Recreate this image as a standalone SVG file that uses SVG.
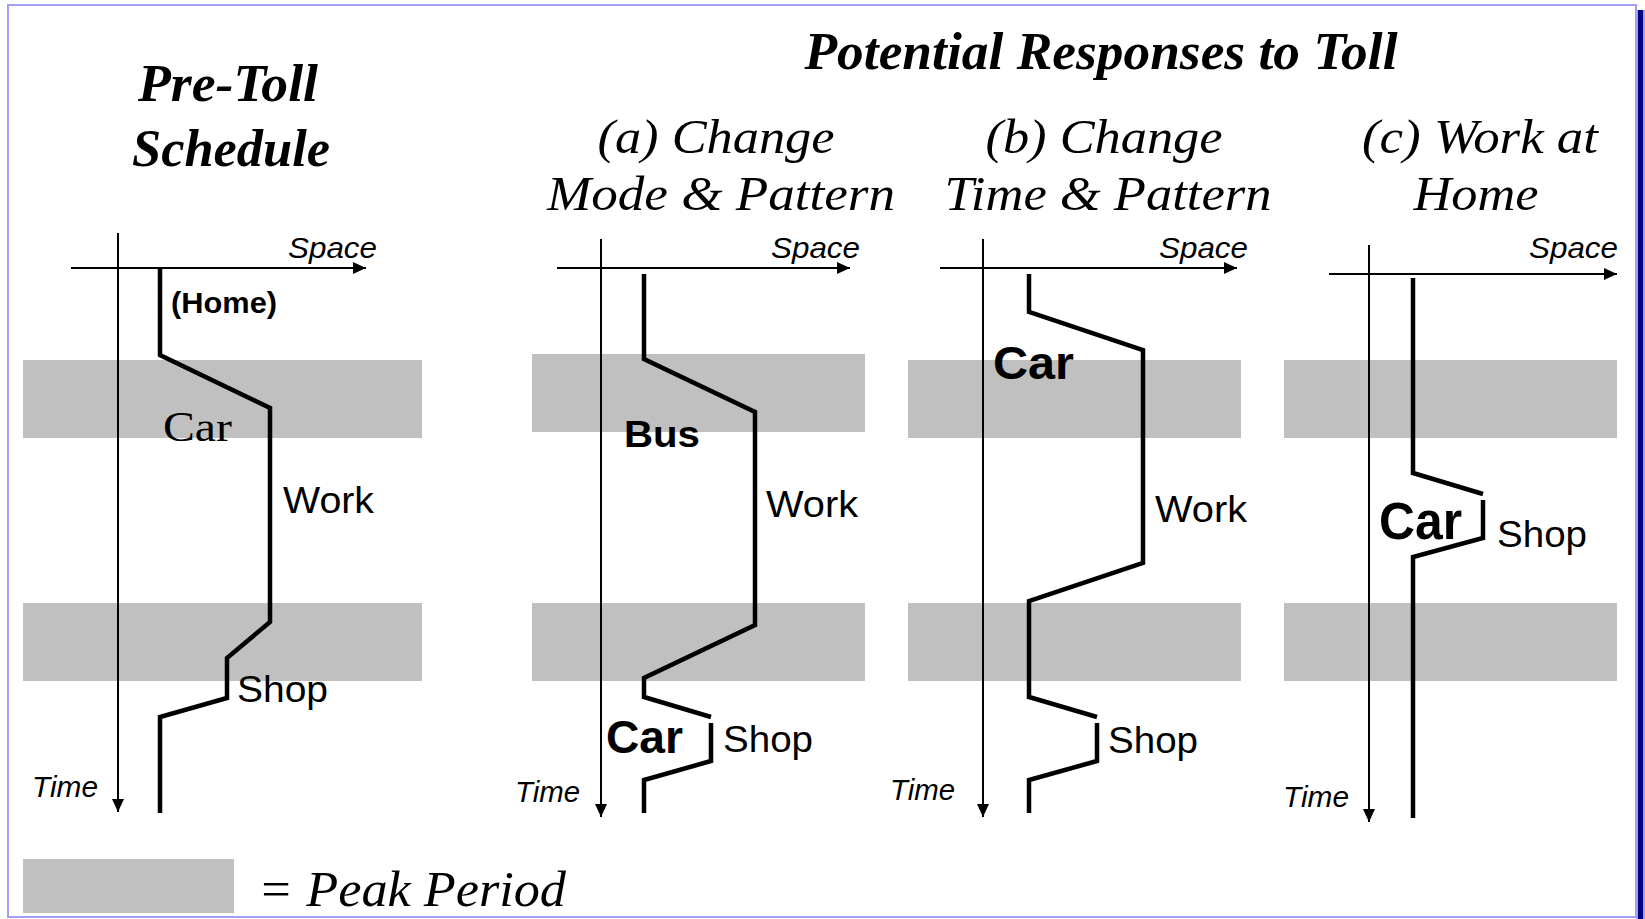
<svg xmlns="http://www.w3.org/2000/svg" width="1645" height="919" viewBox="0 0 1645 919">
<style>
.band{fill:#c0c0c0}
.axis{fill:none;stroke:#000;stroke-width:2}
.traj{fill:none;stroke:#000;stroke-width:4.5;stroke-linejoin:miter;stroke-linecap:butt}
.ttl{font-family:"Liberation Serif","Times New Roman",serif;font-weight:bold;font-style:italic;font-size:53px;fill:#000}
.sub{font-family:"Liberation Serif","Times New Roman",serif;font-style:italic;font-size:48px;fill:#000}
.ax{font-family:"Liberation Sans",Arial,sans-serif;font-style:italic;font-size:29px;fill:#000}
.lbl{font-family:"Liberation Sans",Arial,sans-serif;font-size:37px;fill:#000}
.bold{font-family:"Liberation Sans",Arial,sans-serif;font-weight:bold;fill:#000}
.serif{font-family:"Liberation Serif","Times New Roman",serif;fill:#000}
</style>
<defs>
<marker id="arr" markerUnits="userSpaceOnUse" markerWidth="14" markerHeight="12" refX="13" refY="6" orient="auto">
<path d="M0,0 L13,6 L0,12 Z" fill="#000"/>
</marker>
</defs>
<rect x="0" y="0" width="1645" height="919" fill="#fff"/>
<g id="frame">
<rect x="1636" y="10" width="9" height="909" fill="#a0a0f8"/>
<rect x="1638" y="10" width="5" height="909" fill="#000080"/>
<rect x="8" y="5" width="1628" height="912" fill="#fff" stroke="#a0a0f8" stroke-width="2"/>
</g>
<g id="titles">
<text class="ttl" x="228" y="101" text-anchor="middle" textLength="180" lengthAdjust="spacingAndGlyphs">Pre-Toll</text>
<text class="ttl" x="231" y="166" text-anchor="middle" textLength="198" lengthAdjust="spacingAndGlyphs">Schedule</text>
<text class="ttl" x="1101" y="69" text-anchor="middle" textLength="593" lengthAdjust="spacingAndGlyphs">Potential Responses to Toll</text>
<text class="sub" x="716" y="153" text-anchor="middle" textLength="237" lengthAdjust="spacingAndGlyphs">(a) Change</text>
<text class="sub" x="721" y="210" text-anchor="middle" textLength="348" lengthAdjust="spacingAndGlyphs">Mode &amp; Pattern</text>
<text class="sub" x="1104" y="153" text-anchor="middle" textLength="237" lengthAdjust="spacingAndGlyphs">(b) Change</text>
<text class="sub" x="1108" y="210" text-anchor="middle" textLength="327" lengthAdjust="spacingAndGlyphs">Time &amp; Pattern</text>
<text class="sub" x="1480" y="153" text-anchor="middle" textLength="236" lengthAdjust="spacingAndGlyphs">(c) Work at</text>
<text class="sub" x="1476" y="210" text-anchor="middle" textLength="125" lengthAdjust="spacingAndGlyphs">Home</text>
</g>
<g id="panel-pretoll">
<rect class="band" x="23" y="360" width="399" height="78"/>
<rect class="band" x="23" y="603" width="399" height="78"/>
<text class="ax" x="288" y="258" textLength="89" lengthAdjust="spacingAndGlyphs">Space</text>
<text class="ax" x="32" y="797" textLength="66" lengthAdjust="spacingAndGlyphs">Time</text>
<text class="bold" x="171" y="313" font-size="29" textLength="106" lengthAdjust="spacingAndGlyphs">(Home)</text>
<text class="serif" x="163" y="441" font-size="43" textLength="69" lengthAdjust="spacingAndGlyphs">Car</text>
<text class="lbl" x="283" y="513" textLength="91" lengthAdjust="spacingAndGlyphs">Work</text>
<text class="lbl" x="237" y="702" textLength="91" lengthAdjust="spacingAndGlyphs">Shop</text>
</g>
<g id="panel-a">
<rect class="band" x="532" y="354" width="333" height="78"/>
<rect class="band" x="532" y="603" width="333" height="78"/>
<text class="ax" x="771" y="258" textLength="89" lengthAdjust="spacingAndGlyphs">Space</text>
<text class="ax" x="515" y="802" textLength="65" lengthAdjust="spacingAndGlyphs">Time</text>
<text class="bold" x="624" y="447" font-size="37" textLength="76" lengthAdjust="spacingAndGlyphs">Bus</text>
<text class="lbl" x="766" y="517" textLength="92" lengthAdjust="spacingAndGlyphs">Work</text>
<text class="bold" x="606" y="753" font-size="47" textLength="77" lengthAdjust="spacingAndGlyphs">Car</text>
<text class="lbl" x="723" y="752" textLength="90" lengthAdjust="spacingAndGlyphs">Shop</text>
</g>
<g id="panel-b">
<rect class="band" x="908" y="360" width="333" height="78"/>
<rect class="band" x="908" y="603" width="333" height="78"/>
<text class="ax" x="1159" y="258" textLength="89" lengthAdjust="spacingAndGlyphs">Space</text>
<text class="ax" x="890" y="800" textLength="65" lengthAdjust="spacingAndGlyphs">Time</text>
<text class="bold" x="993" y="379" font-size="46" textLength="81" lengthAdjust="spacingAndGlyphs">Car</text>
<text class="lbl" x="1155" y="522" textLength="92" lengthAdjust="spacingAndGlyphs">Work</text>
<text class="lbl" x="1108" y="753" textLength="90" lengthAdjust="spacingAndGlyphs">Shop</text>
</g>
<g id="panel-c">
<rect class="band" x="1284" y="360" width="333" height="78"/>
<rect class="band" x="1284" y="603" width="333" height="78"/>
<text class="ax" x="1529" y="258" textLength="89" lengthAdjust="spacingAndGlyphs">Space</text>
<text class="ax" x="1283" y="807" textLength="66" lengthAdjust="spacingAndGlyphs">Time</text>
<text class="bold" x="1379" y="539" font-size="51" textLength="83" lengthAdjust="spacingAndGlyphs">Car</text>
<text class="lbl" x="1497" y="547" textLength="90" lengthAdjust="spacingAndGlyphs">Shop</text>
</g>
<g id="connectors">
<path class="axis" d="M118,233 V812" marker-end="url(#arr)"/>
<path class="axis" d="M71,268 H366" marker-end="url(#arr)"/>
<path class="axis" d="M601,239 V817" marker-end="url(#arr)"/>
<path class="axis" d="M557,268 H850" marker-end="url(#arr)"/>
<path class="axis" d="M983,239 V817" marker-end="url(#arr)"/>
<path class="axis" d="M940,268 H1237" marker-end="url(#arr)"/>
<path class="axis" d="M1369,245 V822" marker-end="url(#arr)"/>
<path class="axis" d="M1329,274 H1617" marker-end="url(#arr)"/>
<path class="traj" d="M160,268 V355 L270,408 V622 L227,658 V698 L160,717 V813"/>
<path class="traj" d="M644,274 V359 L755,412 V625 L644,678 V697 L711,717"/>
<path class="traj" d="M711,723 V761 L644,780 V813"/>
<path class="traj" d="M1029,274 V312 L1143,350 V563 L1029,601 V697 L1097,717"/>
<path class="traj" d="M1097,723 V761 L1029,780 V813"/>
<path class="traj" d="M1413,278 V473 L1483,494"/>
<path class="traj" d="M1483,500 V538 L1413,557 V818"/>
</g>
<g id="legend">
<rect class="band" x="23" y="859" width="211" height="54"/>
<text class="serif" x="258" y="906" font-size="50" font-style="italic" textLength="308" lengthAdjust="spacingAndGlyphs">= Peak Period</text>
</g>
</svg>
